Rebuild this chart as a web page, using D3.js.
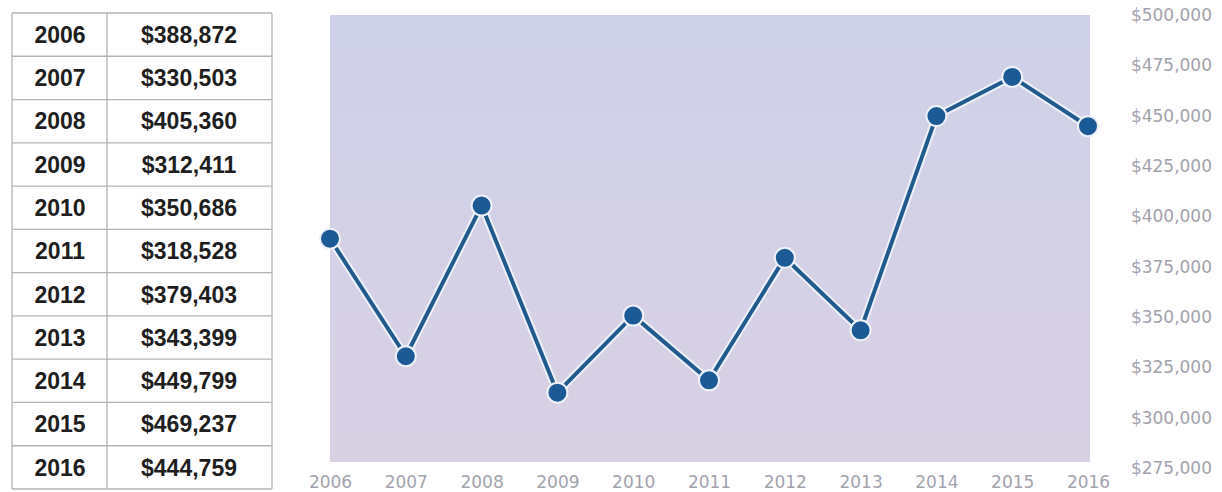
<!DOCTYPE html>
<html>
<head>
<meta charset="utf-8">
<script src="https://cdn.jsdelivr.net/npm/d3@7"></script>
<style>
  body { margin: 0; background: #fff; }
  svg { display: block; }
</style>
</head>
<body>
<div id="chart"></div>
<script>
let years = ['2006', '2007', '2008', '2009', '2010', '2011', '2012', '2013', '2014', '2015', '2016']
let values = [388872, 330503, 405360, 312411, 350686, 318528, 379403, 343399, 449799, 469237, 444759]
let yTicks = [275000, 300000, 325000, 350000, 375000, 400000, 425000, 450000, 475000, 500000]

let width = 1222
let height = 492
let lineColor = '#215b8e'
let dotColor = '#1b5a94'
let gridColor = '#b4b4b8'

let svg = d3.select('#chart')
  .append('svg')
  .attr('width', width)
  .attr('height', height)

let fmt = d3.format('$,')

// table on the left
let rows = d3.scaleBand().domain(years).range([13, 489])
let tableLeft = 12
let tableMid = 107
let tableRight = 272

let table = svg.append('g').attr('class', 'table')

table.selectAll('line.row')
  .data(years.concat(['end']))
  .enter()
  .append('line')
  .attr('class', 'row')
  .attr('x1', tableLeft)
  .attr('x2', tableRight)
  .attr('y1', d => d === 'end' ? rows.range()[1] : rows(d))
  .attr('y2', d => d === 'end' ? rows.range()[1] : rows(d))
  .attr('stroke', gridColor)
  .attr('stroke-width', 1.3)

table.selectAll('line.col')
  .data([tableLeft, tableMid, tableRight])
  .enter()
  .append('line')
  .attr('class', 'col')
  .attr('x1', d => d)
  .attr('x2', d => d)
  .attr('y1', rows.range()[0])
  .attr('y2', rows.range()[1])
  .attr('stroke', gridColor)
  .attr('stroke-width', 1.3)

let cells = table.selectAll('g.cell')
  .data(years)
  .enter()
  .append('g')
  .attr('class', 'cell')
  .attr('transform', d => 'translate(0,' + (rows(d) + rows.bandwidth() / 2) + ')')

cells.append('text')
  .attr('x', 60)
  .attr('dy', '.36em')
  .attr('text-anchor', 'middle')
  .style('font', 'bold 23px "Liberation Sans", Arial, sans-serif')
  .style('fill', '#1e1e1e')
  .text(d => d)

cells.append('text')
  .attr('x', 189)
  .attr('dy', '.36em')
  .attr('text-anchor', 'middle')
  .style('font', 'bold 23px "Liberation Sans", Arial, sans-serif')
  .style('fill', '#1e1e1e')
  .text((d, i) => fmt(values[i]))

// line chart on the right
let x = d3.scalePoint().domain(years).range([330, 1088])
let y = d3.scaleLinear().domain([275000, 500000]).range([468, 15])

let defs = svg.append('defs')
let grad = defs.append('linearGradient')
  .attr('id', 'bg')
  .attr('x1', 0).attr('y1', 0)
  .attr('x2', 0).attr('y2', 1)
grad.append('stop').attr('offset', '0%').attr('stop-color', '#ced1e8')
grad.append('stop').attr('offset', '100%').attr('stop-color', '#d9d0e4')

svg.append('rect')
  .attr('x', 330)
  .attr('y', 15)
  .attr('width', 1090 - 330)
  .attr('height', 462 - 15)
  .attr('fill', 'url(#bg)')

let line = d3.line()
  .x((d, i) => x(years[i]))
  .y(d => y(d))

svg.append('path')
  .datum(values)
  .attr('d', line)
  .attr('fill', 'none')
  .attr('stroke', '#eef1f8')
  .attr('stroke-width', 8)
  .attr('stroke-linejoin', 'round')

svg.append('path')
  .datum(values)
  .attr('d', line)
  .attr('fill', 'none')
  .attr('stroke', lineColor)
  .attr('stroke-width', 4)
  .attr('stroke-linejoin', 'round')

svg.append('g')
  .selectAll('circle')
  .data(values)
  .enter()
  .append('circle')
  .attr('cx', (d, i) => x(years[i]))
  .attr('cy', d => y(d))
  .attr('r', 10)
  .attr('fill', dotColor)
  .attr('stroke', '#eef1f8')
  .attr('stroke-width', 2)

// x axis labels
let xAxis = svg.append('g')
  .attr('transform', 'translate(0,476)')
  .call(d3.axisBottom(x).tickSize(0).tickPadding(0))
xAxis.select('.domain').remove()
xAxis.selectAll('text')
  .attr('dy', '0.71em')
  .style('font', '17px "DejaVu Sans", sans-serif')
  .style('fill', '#a2a2ac')

// y axis labels on the right
let yAxis = svg.append('g')
  .attr('transform', 'translate(1212,0)')
  .call(d3.axisLeft(y).tickValues(yTicks).tickFormat(fmt).tickSize(0).tickPadding(0))
yAxis.select('.domain').remove()
yAxis.selectAll('text')
  .style('font', '17px "DejaVu Sans", sans-serif')
  .style('fill', '#a2a2ac')
</script>
</body>
</html>
